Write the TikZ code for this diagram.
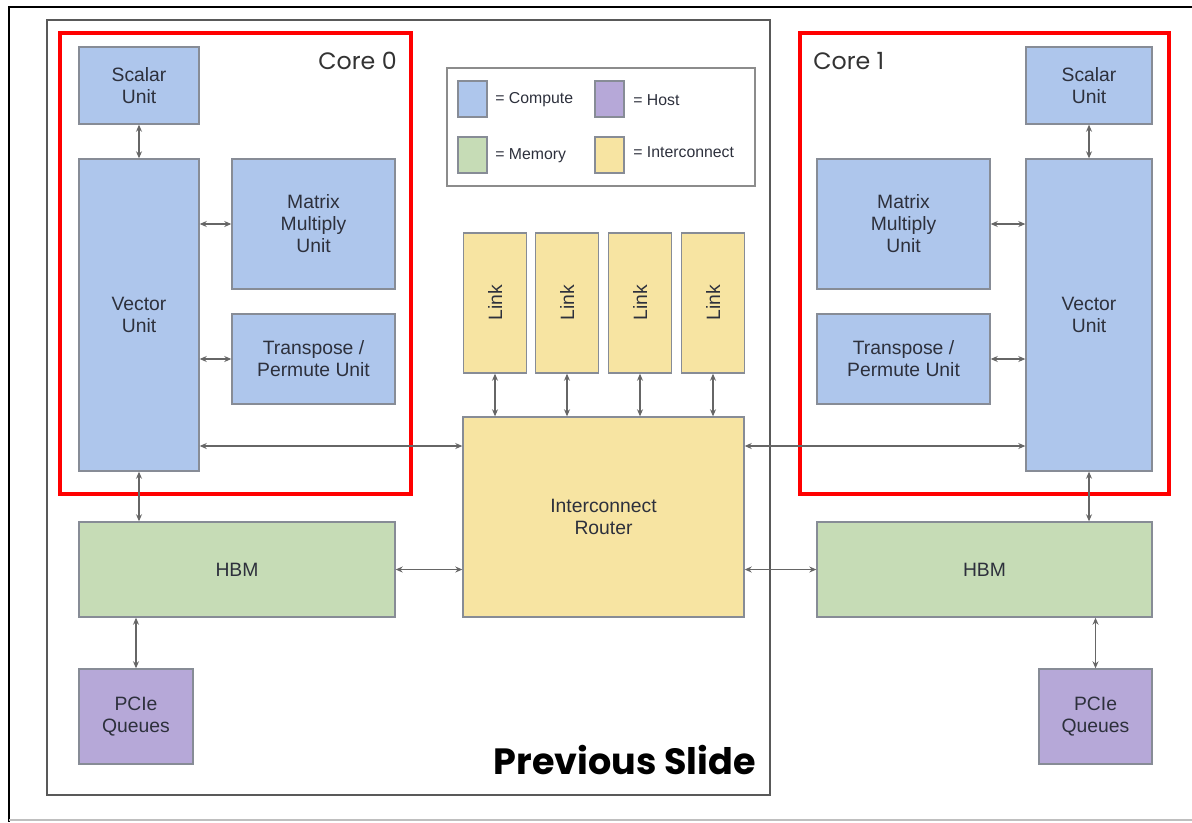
\documentclass[tikz,border=0pt]{standalone}
\usepackage{fontspec}
\setmainfont{Liberation Sans}
\newfontfamily\slidefont{Poppins}
\usetikzlibrary{arrows.meta}

\definecolor{compute}{RGB}{174,198,236}
\definecolor{memory}{RGB}{198,220,182}
\definecolor{inter}{RGB}{247,228,162}
\definecolor{host}{RGB}{182,168,216}
\definecolor{rim}{RGB}{135,140,150}
\definecolor{txt}{RGB}{45,48,60}

\tikzset{
  unit/.style={draw=rim, line width=0.8pt, inner sep=0pt, align=center,
    text=txt, font=\fontsize{11}{12.5}\selectfont},
  cmp/.style={unit, fill=compute},
  mem/.style={unit, fill=memory},
  icn/.style={unit, fill=inter},
  hst/.style={unit, fill=host},
  bidir/.style={draw=black!60, line width=0.6pt,
    {Stealth[length=4pt,width=3.4pt]}-{Stealth[length=4pt,width=3.4pt]}},
  core/.style={draw=red, line width=2.3pt},
  legtxt/.style={anchor=west, inner sep=0pt, text=txt,
    font=\fontsize{9}{10}\selectfont}
}

\begin{document}
\begin{tikzpicture}[x=0.02cm, y=-0.02cm]
    \useasboundingbox (0,0) rectangle (1192,822);
    % Marco exterior
    \draw[line width=1.4pt] (1192,7) -- (9,7) -- (9,822);
    \draw[black!25, line width=0.8pt] (9,820) -- (1192,820);
    % Diapositiva anterior
    \draw[black!65, line width=0.9pt] (47,20) rectangle (770,795);
    \node[anchor=base east, inner sep=0pt, font=\slidefont\bfseries\fontsize{20.8}{22}\selectfont] (prev) at (756,774) {Previous Slide};

    % Leyenda
    \draw[black!45, line width=0.8pt] (447,68) rectangle (755,186);
    \node[cmp, minimum width=0.58cm, minimum height=0.72cm] (lgc) at (472.5,99) {};
    \node[hst, minimum width=0.58cm, minimum height=0.72cm] (lgh) at (609.5,99) {};
    \node[mem, minimum width=0.58cm, minimum height=0.72cm] (lgm) at (472.5,155) {};
    \node[icn, minimum width=0.58cm, minimum height=0.72cm] (lgi) at (609.5,155) {};
    \node[legtxt] (tc) at (495,100) {= Compute};
    \node[legtxt] (th) at (633,100) {= Host};
    \node[legtxt] (tm) at (495,156) {= Memory};
    \node[legtxt] (ti) at (633,152) {= Interconnect};

    % Core 0
    \node[cmp, minimum width=2.4cm, minimum height=1.54cm] (sc0) at (139,85.5) {Scalar\\Unit};
    \node[cmp, minimum width=2.4cm, minimum height=6.24cm] (vu0) at (139,315) {Vector\\Unit};
    \node[cmp, minimum width=3.26cm, minimum height=2.6cm] (mm0) at (313.5,224) {Matrix\\Multiply\\Unit};
    \node[cmp, minimum width=3.26cm, minimum height=1.8cm] (tp0) at (313.5,359) {Transpose /\\Permute Unit};
    \node[mem, minimum width=6.32cm, minimum height=1.9cm] (hbm0) at (237,569.5) {HBM};
    \node[hst, minimum width=2.28cm, minimum height=1.9cm] (pq0) at (136,716.5) {PCIe\\Queues};
    \draw[core] (60,33) rectangle (411,494);
    \node[anchor=base east, inner sep=0pt, text=black!80, font=\slidefont\fontsize{13.5}{15}\selectfont] (c0) at (397,69) {Core 0};

    % Core 1
    \node[cmp, minimum width=2.52cm, minimum height=1.54cm] (sc1) at (1089,85.5) {Scalar\\Unit};
    \node[cmp, minimum width=2.52cm, minimum height=6.24cm] (vu1) at (1089,315) {Vector\\Unit};
    \node[cmp, minimum width=3.46cm, minimum height=2.6cm] (mm1) at (903.5,224) {Matrix\\Multiply\\Unit};
    \node[cmp, minimum width=3.46cm, minimum height=1.8cm] (tp1) at (903.5,359) {Transpose /\\Permute Unit};
    \node[mem, minimum width=6.7cm, minimum height=1.9cm] (hbm1) at (984.5,569.5) {HBM};
    \node[hst, minimum width=2.26cm, minimum height=1.9cm] (pq1) at (1095.5,716.5) {PCIe\\Queues};
    \draw[core] (800,33) rectangle (1169,494);
    \node[anchor=base west, inner sep=0pt, text=black!80, font=\slidefont\fontsize{13.5}{15}\selectfont] (c1) at (813,69) {Core 1};

    % Enlaces y router
    \foreach \i/\x in {1/495,2/567,3/640,4/713}
      \node[icn, minimum width=1.26cm, minimum height=2.8cm] (lk\i) at (\x,303) {\rotatebox{90}{Link}};
    \node[icn, minimum width=5.62cm, minimum height=4cm] (rt) at (603.5,517) {Interconnect\\Router};
    \coordinate (bus) at (603.5,446);

    % Conexiones
    \foreach \i in {1,...,4}
      \draw[bidir] (lk\i.south) -- (lk\i.south |- rt.north);
    \foreach \c in {0,1} {
      \draw[bidir] (sc\c.south) -- (vu\c.north);
      \draw[bidir] (vu\c.south) -- (vu\c.south |- hbm\c.north);
      \draw[bidir] (pq\c.north |- hbm\c.south) -- (pq\c.north);
    }
    \draw[bidir] (mm0.west -| vu0.east) -- (mm0.west);
    \draw[bidir] (tp0.west -| vu0.east) -- (tp0.west);
    \draw[bidir] (mm1.east) -- (mm1.east -| vu1.west);
    \draw[bidir] (tp1.east) -- (tp1.east -| vu1.west);
    \draw[bidir] (vu0.east |- bus) -- (rt.west |- bus);
    \draw[bidir] (rt.east |- bus) -- (vu1.west |- bus);
    \draw[bidir] (hbm0.east) -- (hbm0.east -| rt.west);
    \draw[bidir] (rt.east |- hbm1.west) -- (hbm1.west);
  \end{tikzpicture}
\end{document}
